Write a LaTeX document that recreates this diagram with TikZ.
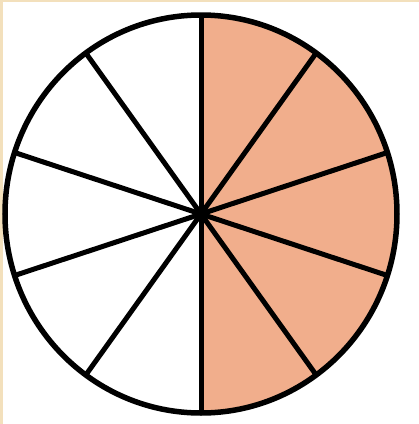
\documentclass[tikz,border=0pt]{standalone}
\usetikzlibrary{calc}
\definecolor{beige}{RGB}{243,224,188}
\definecolor{peach}{RGB}{241,174,140}
\begin{document}
\begin{tikzpicture}[x=1pt,y=-1pt,
  spoke/.style={draw=black,line width=5pt},
  rim/.style={draw=black,line width=5.5pt}]
\useasboundingbox (0,0) rectangle (419,424);
\fill[white] (0,0) rectangle (419,424);
\fill[beige] (0,0) rectangle (419,2);
\fill[beige] (0,0) rectangle (3,424);
\coordinate (c) at (201,214);
% shaded right half
\fill[peach] (c) -- ++(0,-199) arc[start angle=-90,end angle=90,x radius=196,y radius=199] -- cycle;
% spokes
\foreach \a/\n in {90/p1,54/p2,18/p3,-18/p4,-54/p5,-90/p6,-126/p7,-162/p8,162/p9,126/p10}{
  \coordinate (\n) at ($(c)+({196*cos(\a)},{-199*sin(\a)})$);
  \draw[spoke] (c) -- (\n);
}
\draw[rim] (c) ellipse[x radius=196,y radius=199];
\end{tikzpicture}
\end{document}
